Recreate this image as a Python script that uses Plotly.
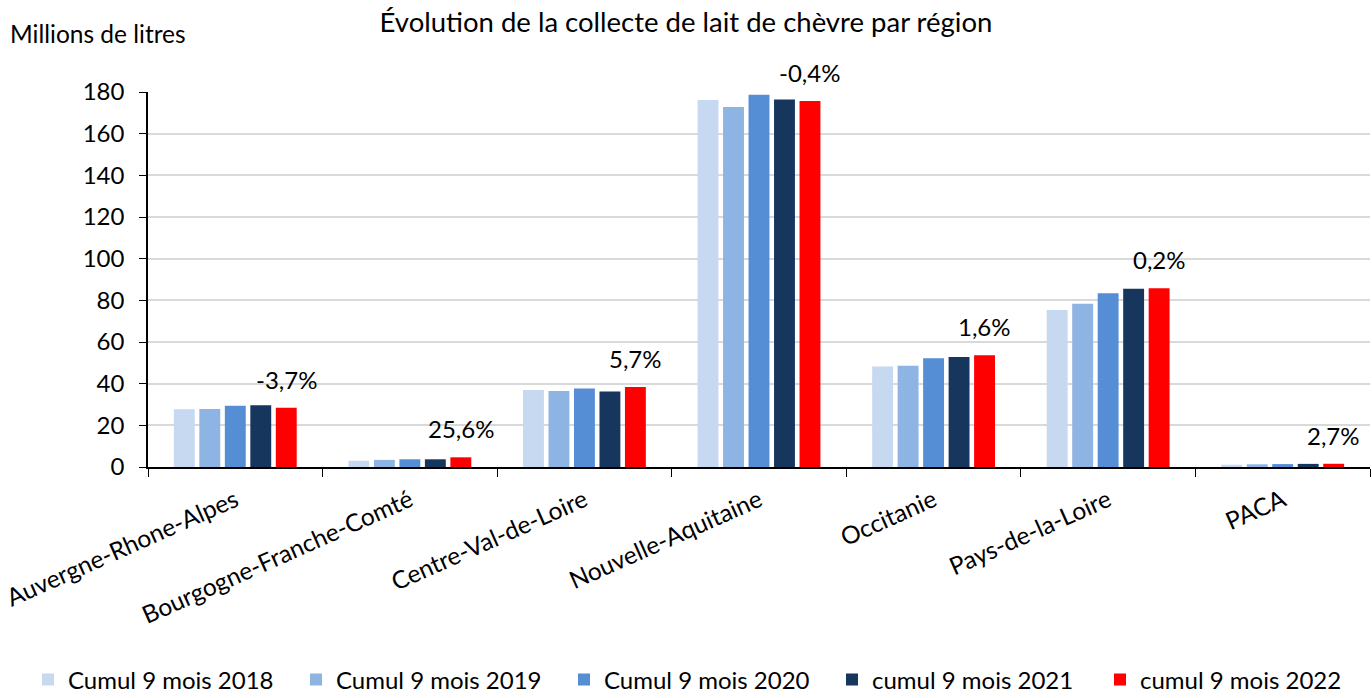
import plotly.graph_objects as go

regions = ["Auvergne-Rhone-Alpes", "Bourgogne-Franche-Comté", "Centre-Val-de-Loire",
           "Nouvelle-Aquitaine", "Occitanie", "Pays-de-la-Loire", "PACA"]
series_names = ["Cumul 9 mois 2018", "Cumul 9 mois 2019", "Cumul 9 mois 2020",
                "cumul 9 mois 2021", "cumul 9 mois 2022"]
v2018 = [27.7, 3.0, 37.0, 176.2, 48.2, 75.4, 1.1]
v2019 = [27.8, 3.4, 36.5, 172.8, 48.6, 78.4, 1.3]
v2020 = [29.4, 3.7, 37.7, 178.7, 52.2, 83.4, 1.4]
v2021 = [29.6, 3.7, 36.3, 176.4, 52.8, 85.6, 1.5]
v2022 = [28.5, 4.65, 38.4, 175.7, 53.6, 85.8, 1.55]
evolution = ["-3,7%", "25,6%", "5,7%", "-0,4%", "1,6%", "0,2%", "2,7%"]
y_ticks = [0, 20, 40, 60, 80, 100, 120, 140, 160, 180]

colors = ["#C6D9F1", "#8EB4E3", "#558ED5", "#17365D", "#FF0000"]
FONT = "Lato, 'Open Sans', sans-serif"

fig = go.Figure()
for name, vals, col in zip(series_names, [v2018, v2019, v2020, v2021, v2022], colors):
    fig.add_trace(go.Bar(x=regions, y=vals, name=name, marker=dict(color=col, line=dict(width=0))))

# geometry
W, H = 1372, 698
ml, mr, mt, mb = 148, 2, 92, 231
plot_w = W - ml - mr
plot_h = H - mt - mb
cat_w = plot_w / len(regions)
bargap = 0.27
slot = cat_w * (1 - bargap) / 5
x_off = 2 * slot

for reg, val, txt in zip(regions, v2022, evolution):
    fig.add_annotation(x=reg, y=val, text=txt, showarrow=False, xref="x", yref="y",
                       xshift=x_off, yshift=12, yanchor="bottom",
                       font=dict(size=24, color="#000000", family=FONT))

fig.add_annotation(text="Millions de litres", xref="paper", yref="paper",
                   x=-(ml - 8) / plot_w, y=1 + (mt - 33) / plot_h,
                   xanchor="left", yanchor="middle", showarrow=False,
                   font=dict(size=24.5, color="#000000", family=FONT))

fig.update_layout(
    width=W, height=H,
    margin=dict(l=ml, r=mr, t=mt, b=mb, autoexpand=False),
    paper_bgcolor="white", plot_bgcolor="white",
    barmode="group", bargap=bargap, bargroupgap=0.18,
    title=dict(text="Évolution de la collecte de lait de chèvre par région",
               x=0.5, xref="container", xanchor="center",
               y=1 - 22 / H, yref="container", yanchor="middle",
               font=dict(size=27.5, color="#000000", family=FONT)),
    font=dict(family=FONT, color="#000000"),
    legend=dict(orientation="h", xref="paper", yref="paper",
                x=-(ml - 28) / plot_w, y=-(680 - (H - mb)) / plot_h,
                xanchor="left", yanchor="middle",
                entrywidth=223, entrywidthmode="pixels",
                bgcolor="rgba(0,0,0,0)",
                font=dict(size=24, color="#000000", family=FONT),
                tracegroupgap=0),
    showlegend=True,
)
fig.update_xaxes(showline=True, linecolor="#000000", linewidth=1.5, automargin=False,
                 ticks="outside", tickson="boundaries", ticklen=8, tickcolor="#000000",
                 tickangle=-24, ticklabelstandoff=8,
                 tickfont=dict(size=24.5, family=FONT, color="#000000"),
                 showgrid=False)
fig.update_yaxes(range=[0, 180], tickvals=y_ticks, showline=True, linecolor="#000000",
                 linewidth=1.5, ticks="outside", ticklen=7, tickcolor="#000000",
                 automargin=False, ticklabelstandoff=10,
                 gridcolor="#D9D9D9", gridwidth=1.5, zeroline=False,
                 tickfont=dict(size=24, family=FONT, color="#000000"))

fig.write_html("out.html", config={"displayModeBar": False},
               post_script="document.body.style.margin='0';")
